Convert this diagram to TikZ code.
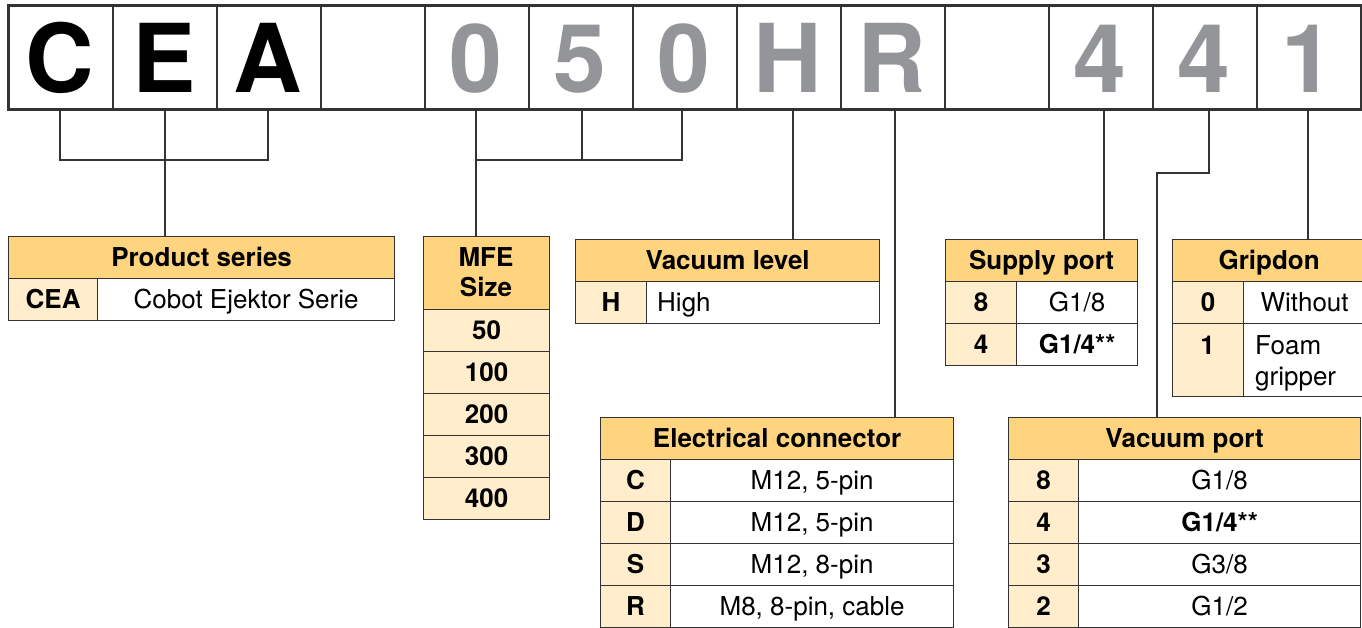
\documentclass[tikz,border=0pt]{standalone}
\usepackage{fontspec}
\setmainfont{TeX Gyre Heros}
\definecolor{hdr}{HTML}{FFD47F}
\definecolor{keyc}{HTML}{FFEDCC}
\definecolor{lc}{HTML}{333333}
\definecolor{gl}{HTML}{939598}
\newcommand\tf{\fontsize{26}{31}\selectfont}
\newcommand\tfb{\fontsize{26}{31}\selectfont\bfseries}
\newcommand\hugef{\fontsize{95}{100}\selectfont\bfseries}
\begin{document}
\begin{tikzpicture}[x=1pt,y=-1pt,
  cell/.style={draw=lc, line width=1.2pt, inner sep=0pt, anchor=north west,
    text height=18.7pt, text depth=0pt, font=\tf},
  hd/.style={cell, fill=hdr, font=\tfb},
  ky/.style={cell, fill=keyc, font=\tfb},
  val/.style={cell, fill=white},
  box/.style={draw=lc, line width=1.8pt, inner sep=0pt, anchor=north west,
    minimum width=104pt, minimum height=103pt},
  big/.style={anchor=base, font=\hugef, inner sep=0pt},
  txt/.style={anchor=base, font=\tf, inner sep=0pt},
  txtb/.style={anchor=base, font=\tfb, inner sep=0pt},
  conn/.style={draw=lc, line width=1.2pt}]
\useasboundingbox (0,0) rectangle (1362,628);
\clip (0,0) rectangle (1362,628);
\fill[white] (0,0) rectangle (1362,628);

% ---------- top code boxes ----------
\foreach \i in {1,...,13}{
  \node[box] (b\i) at ({8+104*(\i-1)},5) {};
}
\draw[lc, line width=2.6pt] (b1.north west) rectangle (b13.south east);
\node[big] (lC) at (60,93) {C};
\node[big] (lE) at (164,93) {E};
\node[big] (lA) at (268,93) {A};
\node[big, text=gl] (l0a) at (476,93) {0};
\node[big, text=gl] (l5) at (580,93) {5};
\node[big, text=gl] (l0b) at (684,93) {0};
\node[big, text=gl] (lH) at (788,93) {H};
\node[big, text=gl] (lR) at (892,93) {R};
\node[big, text=gl] (l4a) at (1100,93) {4};
\node[big, text=gl] (l4b) at (1204,93) {4};
\node[big, text=gl] (l1) at (1308,93) {1};

% ---------- tables ----------
% Product series
\node[hd, minimum width=386pt, minimum height=42pt] (ps) at (8,236) {Product series};
\node[ky, minimum width=89pt, minimum height=42pt] (psk) at (8,278) {CEA};
\node[val, minimum width=297pt, minimum height=42pt] (psv) at (97,278) {Cobot Ejektor Serie};

% MFE size
\node[hd, minimum width=126pt, minimum height=73pt, text height=0pt] (mfe) at (423,236) {};
\node[txtb] (mfe1) at (486,266) {MFE};
\node[txtb] (mfe2) at (486,297) {Size};
\foreach \v [count=\k] in {50,100,200,300,400}{
  \node[ky, minimum width=126pt, minimum height=42pt] (mfe\k) at (423,{309+42*(\k-1)}) {\v};
}

% Vacuum level
\node[hd, minimum width=304pt, minimum height=42pt] (vl) at (575,239) {Vacuum level};
\node[ky, minimum width=71pt, minimum height=42pt] (vlk) at (575,281) {H};
\node[val, minimum width=233pt, minimum height=42pt] (vlv) at (646,281) {};
\node[txt, anchor=base west] (vlt) at (657,311) {High};

% Electrical connector
\node[hd, minimum width=353pt, minimum height=42pt] (ec) at (600,417) {Electrical connector};
\node[ky, minimum width=70pt, minimum height=42pt] (eck1) at (600,459) {C};
\node[val, minimum width=283pt, minimum height=42pt] (ecv1) at (670,459) {M12, 5-pin};
\node[ky, minimum width=70pt, minimum height=42pt] (eck2) at (600,501) {D};
\node[val, minimum width=283pt, minimum height=42pt] (ecv2) at (670,501) {M12, 5-pin};
\node[ky, minimum width=70pt, minimum height=42pt] (eck3) at (600,543) {S};
\node[val, minimum width=283pt, minimum height=42pt] (ecv3) at (670,543) {M12, 8-pin};
\node[ky, minimum width=70pt, minimum height=42pt] (eck4) at (600,585) {R};
\node[val, minimum width=283pt, minimum height=42pt] (ecv4) at (670,585) {M8, 8-pin, cable};

% Supply port
\node[hd, minimum width=192pt, minimum height=42pt] (sp) at (945,239) {Supply port};
\node[ky, minimum width=71pt, minimum height=42pt] (spk1) at (945,281) {8};
\node[val, minimum width=121pt, minimum height=42pt] (spv1) at (1016,281) {G1/8};
\node[ky, minimum width=71pt, minimum height=42pt] (spk2) at (945,323) {4};
\node[val, minimum width=121pt, minimum height=42pt, font=\tfb] (spv2) at (1016,323) {G1/4**};

% Gripdon
\node[hd, minimum width=193pt, minimum height=42pt] (gd) at (1172,239) {Gripdon};
\node[ky, minimum width=71pt, minimum height=42pt] (gdk1) at (1172,281) {0};
\node[val, minimum width=122pt, minimum height=42pt] (gdv1) at (1243,281) {Without};
\node[ky, minimum width=71pt, minimum height=73pt, text height=0pt] (gdk2) at (1172,323) {};
\node[val, minimum width=122pt, minimum height=73pt, text height=0pt] (gdv2) at (1243,323) {};
\node[txtb] (gdt1) at (1207.5,354) {1};
\node[txt, anchor=base west] (gdt2) at (1255,354) {Foam};
\node[txt, anchor=base west] (gdt3) at (1255,385) {gripper};

% Vacuum port
\node[hd, minimum width=352pt, minimum height=42pt] (vp) at (1008,417) {Vacuum port};
\node[ky, minimum width=70pt, minimum height=42pt] (vpk1) at (1008,459) {8};
\node[val, minimum width=282pt, minimum height=42pt] (vpv1) at (1078,459) {G1/8};
\node[ky, minimum width=70pt, minimum height=42pt] (vpk2) at (1008,501) {4};
\node[val, minimum width=282pt, minimum height=42pt, font=\tfb] (vpv2) at (1078,501) {G1/4**};
\node[ky, minimum width=70pt, minimum height=42pt] (vpk3) at (1008,543) {3};
\node[val, minimum width=282pt, minimum height=42pt] (vpv3) at (1078,543) {G3/8};
\node[ky, minimum width=70pt, minimum height=42pt] (vpk4) at (1008,585) {2};
\node[val, minimum width=282pt, minimum height=42pt] (vpv4) at (1078,585) {G1/2};

% ---------- connectors ----------
\coordinate (tC) at (60,108);
\coordinate (tE) at (165,108);
\coordinate (tA) at (268,108);
\coordinate (t0a) at (476,108);
\coordinate (t5) at (582,108);
\coordinate (t0b) at (682,108);
\coordinate (tH) at (793,108);
\coordinate (tR) at (895,108);
\coordinate (t4a) at (1104,108);
\coordinate (t4b) at (1209,108);
\coordinate (t1) at (1308,108);
\coordinate (jy) at (0,160);
\coordinate (ky2) at (0,173);
\coordinate (kx) at (1157,0);

\draw[conn] (tC) -- (tC |- jy) -- (tA |- jy) -- (tA);
\draw[conn] (tE) -- (tE |- ps.north);
\draw[conn] (t0a) -- (t0a |- mfe.north);
\draw[conn] (t0a |- jy) -- (t0b |- jy) -- (t0b);
\draw[conn] (t5) -- (t5 |- jy);
\draw[conn] (tH) -- (tH |- vl.north);
\draw[conn] (tR) -- (tR |- ec.north);
\draw[conn] (t4a) -- (t4a |- sp.north);
\draw[conn] (t4b) -- (t4b |- ky2) -- (kx |- ky2) -- (kx |- vp.north);
\draw[conn] (t1) -- (t1 |- gd.north);
\end{tikzpicture}
\end{document}
